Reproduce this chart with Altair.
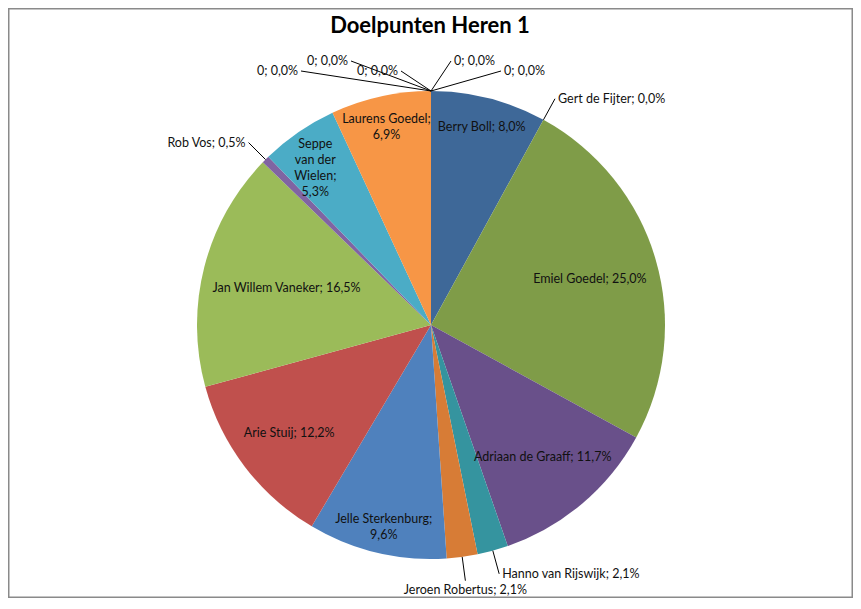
import altair as alt
import pandas as pd

# ---- data ----
title_text = ["Doelpunten Heren 1"]
names = ["Berry Boll", "Gert de Fijter", "Emiel Goedel", "Adriaan de Graaff",
         "Hanno van Rijswijk", "Jeroen Robertus", "Jelle Sterkenburg", "Arie Stuij",
         "Jan Willem Vaneker", "Rob Vos", "Seppe van der Wielen", "Laurens Goedel",
         "0", "0", "0", "0", "0"]
goals = [15, 0, 47, 22, 4, 4, 18, 23, 31, 1, 10, 13, 0, 0, 0, 0, 0]
labels = ["Berry Boll; 8,0%", "Gert de Fijter; 0,0%", "Emiel Goedel; 25,0%",
          "Adriaan de Graaff; 11,7%", "Hanno van Rijswijk; 2,1%", "Jeroen Robertus; 2,1%",
          "Jelle Sterkenburg;\n9,6%", "Arie Stuij; 12,2%", "Jan Willem Vaneker; 16,5%",
          "Rob Vos; 0,5%", "Seppe\nvan der\nWielen;\n5,3%", "Laurens Goedel;\n6,9%",
          "0; 0,0%", "0; 0,0%", "0; 0,0%", "0; 0,0%", "0; 0,0%"]

# ---- style ----
palette = ["#3E6898", "#B04A47", "#7F9C48", "#69508A", "#35949F", "#D77C36",
           "#4F81BD", "#C0504D", "#9BBB59", "#8064A2", "#4BACC6", "#F79646",
           "#2C4D75", "#772C2A", "#5F7530", "#4D3B62", "#276A7C"]
FONT = "Lato"
FS = 12.5
LH = 16
W, H = 845, 590
CX, CY, R = 423, 317, 234

ids = list(range(len(names)))
df = pd.DataFrame({
    "id": ids,
    "name": names,
    "goals": goals,
    "label": labels,
    "lw": [max(len(s) for s in l.split("\n")) for l in labels],
    "nl": [len(l.split("\n")) for l in labels],
})

arcs = alt.Chart(df).mark_arc(radius=R).encode(
    theta=alt.Theta("goals:Q", stack=True),
    order=alt.Order("id:Q"),
    color=alt.Color("id:N", scale=alt.Scale(domain=ids, range=palette), legend=None),
    x=alt.value(CX),
    y=alt.value(CY),
)

base = (
    alt.Chart(df)
    .transform_joinaggregate(total="sum(goals)")
    .transform_window(cum="sum(goals)", sort=[alt.SortField("id")], frame=[None, 0])
    .transform_calculate(
        mid="2*PI*(datum.cum - datum.goals/2)/datum.total",
        pct="datum.goals/datum.total",
        top="(datum.goals == 0 && datum.cum == datum.total) ? 1 : 0",
    )
    .transform_window(k="row_number()", groupby=["top"], sort=[alt.SortField("id")])
    .transform_calculate(
        s="sin(datum.mid)",
        c="cos(datum.mid)",
        inside="datum.pct >= 0.04 ? 1 : 0",
    )
    .transform_calculate(
        sx=f"{CX} + {R}*datum.s",
        sy=f"{CY} - {R}*datum.c",
    )
    .transform_calculate(
        ax=f"datum.top == 1 ? datum.sx + 50*datum.k - 180 : {CX} + {R + 24}*datum.s",
        ay=f"datum.top == 1 ? datum.sy - 20 - 10*((datum.k - 1) % 2) : {CY} - {R + 24}*datum.c",
        lr=f"{0.92 * R} - 2.73*datum.lw*abs(datum.s)",
    )
    .transform_calculate(
        lx=f"datum.inside == 1 ? {CX} + datum.lr*datum.s : datum.ax",
        ly=f"(datum.inside == 1 ? {CY} - datum.lr*datum.c : datum.ay) - (datum.nl - 1)*{LH / 4}",
        side="datum.inside == 1 ? 'I' : (datum.top == 1 ? (datum.ax < datum.sx ? 'R' : 'L') : "
             "(datum.s > 0.2 ? 'L' : (datum.s < -0.2 ? 'R' : (datum.c < 0 ? 'B' : 'T'))))",
    )
)

rules = base.transform_filter("datum.inside == 0").mark_rule(color="black", strokeWidth=1).encode(
    x=alt.X("sx:Q", scale=None, axis=None),
    y=alt.Y("sy:Q", scale=None, axis=None),
    x2="ax:Q",
    y2="ay:Q",
)


def text_layer(side, **kw):
    return base.transform_filter(f"datum.side == '{side}'").mark_text(
        font=FONT, fontSize=FS, color="#111111", lineBreak="\n", lineHeight=LH, **kw
    ).encode(
        x=alt.X("lx:Q", scale=None, axis=None),
        y=alt.Y("ly:Q", scale=None, axis=None),
        text="label:N",
    )


t_in = text_layer("I", align="center", baseline="middle")
t_l = text_layer("L", align="left", baseline="middle", dx=3)
t_r = text_layer("R", align="right", baseline="middle", dx=-3)
t_b = text_layer("B", align="center", baseline="top", dy=3)
t_t = text_layer("T", align="center", baseline="bottom", dy=-3)

title = alt.Chart(pd.DataFrame({"t": title_text})).mark_text(
    font=FONT, fontSize=22, fontWeight="bold", color="black",
    align="center", baseline="alphabetic",
).encode(x=alt.value(422), y=alt.value(25), text="t:N")

chart = alt.layer(arcs, rules, t_in, t_l, t_r, t_b, t_t, title).properties(
    width=W, height=H, padding=0, autosize="none"
).configure_view(stroke="#8a8a8a", strokeWidth=3)

chart.save("out.html", embed_options={"renderer": "svg", "actions": False})
